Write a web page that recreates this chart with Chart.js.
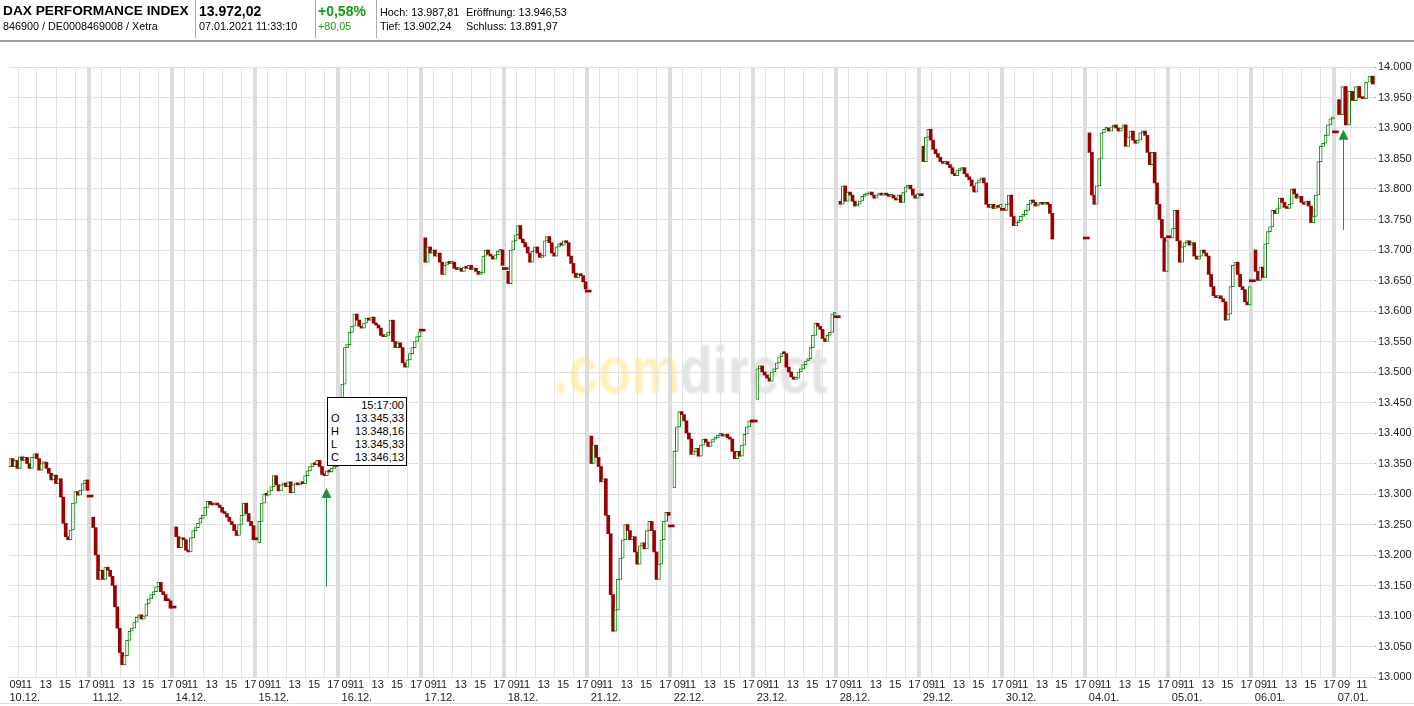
<!DOCTYPE html>
<html>
<head>
<meta charset="utf-8">
<script src="https://cdn.jsdelivr.net/npm/chart.js@4.4.1/dist/chart.umd.min.js"></script>
<style>
  body { margin:0; background:#fff; font-family:"Liberation Sans", Arial, sans-serif; }
  #wrap { position:relative; width:1414px; height:706px; overflow:hidden; }
  #c { position:absolute; left:0; top:0; }
  #hdr { position:absolute; left:0; top:0; width:1414px; height:42px; border-bottom:2px solid #a0a0a0; box-sizing:border-box; }
  .t { position:absolute; white-space:nowrap; color:#000; }
  .big { font-weight:bold; font-size:14px; top:3px; }
  .sm { font-size:10.8px; top:20px; }
  .sep { position:absolute; top:0; width:1px; height:38px; background:#aaa; }
  .grn { color:#149a14; }
  #tip { position:absolute; left:327px; top:397px; width:78px; height:66px; border:1px solid #000; background:#fff;
         font-size:11px; line-height:13px; padding:1px 0 0 0; }
  #tip div { display:flex; justify-content:space-between; padding:0 2px 0 3px; }
  #bot { position:absolute; left:0; top:703px; width:1414px; height:1px; background:#ddd; }
</style>
</head>
<body>
<div id="wrap">
  <canvas id="c" width="1414" height="706"></canvas>
  <div id="hdr">
    <div class="t big" style="left:3px;font-size:13.7px">DAX PERFORMANCE INDEX</div>
    <div class="t sm" style="left:3px">846900 / DE0008469008 / Xetra</div>
    <div class="sep" style="left:195px"></div>
    <div class="t big" style="left:199px">13.972,02</div>
    <div class="t sm" style="left:199px">07.01.2021 11:33:10</div>
    <div class="sep" style="left:315px"></div>
    <div class="t big grn" style="left:318px">+0,58%</div>
    <div class="t sm grn" style="left:318px">+80,05</div>
    <div class="sep" style="left:376px"></div>
    <div class="t sm" style="left:380px;top:6px">Hoch: 13.987,81</div>
    <div class="t sm" style="left:466px;top:6px">Eröffnung: 13.946,53</div>
    <div class="t sm" style="left:380px">Tief: 13.902,24</div>
    <div class="t sm" style="left:466px">Schluss: 13.891,97</div>
  </div>
  <div id="tip">
    <div><span></span><span>15:17:00</span></div>
    <div><span>O</span><span>13.345,33</span></div>
    <div><span>H</span><span>13.348,16</span></div>
    <div><span>L</span><span>13.345,33</span></div>
    <div><span>C</span><span>13.346,13</span></div>
  </div>
  <div id="bot"></div>
</div>
<script>
// trading days shown on the x axis
const days = ['10.12.','11.12.','14.12.','15.12.','16.12.','17.12.','18.12.','21.12.','22.12.',
              '23.12.','28.12.','29.12.','30.12.','04.01.','05.01.','06.01.','07.01.'];
const hourTicks = [11, 13, 15, 17];
const yTicks = [13000, 13050, 13100, 13150, 13200, 13250, 13300, 13350, 13400, 13450, 13500,
                13550, 13600, 13650, 13700, 13750, 13800, 13850, 13900, 13950, 14000];

// per day: opening value, closes every 15 minutes 09:15..17:15, then the closing value
const d1012 = [13345,13358,13345,13355,13342,13361,13355,13360,13350,13342,13360,13366,13358,13339,13350,13352,13342,13334,13323,13331,13317,13325,13295,13252,13230,13225,13241,13285,13304,13298,13306,13317,13323,13306,13295];
const d1112 = [13262,13245,13200,13160,13175,13160,13180,13175,13165,13150,13115,13080,13040,13020,13035,13060,13075,13080,13090,13098,13102,13095,13100,13120,13128,13135,13140,13148,13155,13140,13135,13125,13125,13113,13113];
const d1412 = [13246,13230,13212,13228,13225,13208,13205,13228,13240,13245,13252,13260,13265,13278,13288,13283,13282,13285,13282,13278,13270,13268,13262,13255,13250,13240,13232,13250,13265,13285,13268,13255,13248,13225,13225];
const d1512 = [13220,13255,13285,13300,13298,13305,13312,13330,13315,13305,13315,13318,13312,13320,13302,13315,13318,13315,13318,13317,13330,13338,13345,13350,13348,13355,13345,13332,13330,13338,13336,13342,13345,13350,13348];
const d1612 = [13350,13480,13540,13545,13565,13575,13595,13585,13575,13572,13580,13588,13585,13590,13580,13577,13572,13560,13558,13560,13565,13585,13550,13540,13548,13540,13515,13508,13520,13530,13540,13550,13558,13566,13567];
const d1712 = [13720,13680,13705,13695,13700,13690,13695,13680,13660,13675,13680,13678,13680,13670,13668,13670,13665,13672,13670,13675,13668,13670,13665,13660,13662,13690,13700,13693,13690,13685,13692,13698,13700,13675,13668];
const d1812 = [13665,13645,13700,13715,13725,13740,13718,13712,13705,13695,13680,13698,13705,13695,13688,13690,13715,13722,13712,13695,13690,13705,13710,13708,13715,13712,13690,13678,13662,13655,13660,13658,13648,13636,13631];
const d2112 = [13395,13350,13380,13360,13345,13320,13325,13265,13235,13135,13075,13110,13160,13195,13225,13250,13240,13225,13230,13205,13185,13215,13220,13210,13240,13255,13240,13205,13160,13185,13225,13255,13270,13265,13246];
const d2212 = [13310,13370,13410,13435,13430,13420,13400,13390,13365,13370,13375,13362,13380,13390,13385,13378,13385,13390,13392,13396,13398,13395,13398,13392,13390,13370,13358,13370,13362,13380,13398,13410,13420,13418,13418];
const d2312 = [13455,13505,13510,13500,13495,13490,13485,13500,13505,13515,13525,13530,13530,13508,13500,13492,13488,13490,13500,13505,13512,13518,13522,13540,13560,13580,13575,13570,13555,13550,13560,13565,13595,13598,13589];
const d2812 = [13780,13775,13805,13780,13795,13790,13780,13772,13775,13780,13788,13790,13792,13795,13790,13785,13790,13792,13790,13793,13790,13788,13790,13785,13782,13790,13778,13795,13803,13806,13800,13790,13785,13792,13789];
const d2912 = [13870,13845,13885,13898,13880,13865,13858,13852,13845,13842,13845,13840,13835,13825,13822,13830,13832,13835,13825,13820,13815,13805,13795,13810,13815,13818,13810,13775,13770,13775,13768,13772,13770,13775,13765];
const d3012 = [13765,13775,13790,13755,13740,13745,13748,13755,13758,13765,13775,13782,13778,13772,13775,13778,13775,13778,13775,13760,13718,null,null,null,null,null,null,null,null,null,null,null,null,null,13718];
const d0401 = [13892,13860,13790,13775,13805,13850,13892,13898,13900,13895,13902,13905,13900,13895,13900,13905,13870,13885,13895,13880,13875,13880,13892,13895,13888,13860,13840,13860,13810,13775,13750,13720,13665,13715,13720];
const d0501 = [13720,13735,13765,13715,13680,13705,13712,13715,13708,13712,13690,13685,13690,13700,13695,13690,13660,13640,13625,13622,13625,13620,13615,13585,13595,13640,13675,13680,13660,13640,13635,13615,13610,13640,13648];
const d0601 = [13700,13665,13650,13672,13655,13710,13730,13738,13765,13760,13768,13785,13778,13770,13768,13775,13800,13792,13785,13788,13778,13775,13780,13772,13745,13755,13790,13845,13870,13875,13888,13905,13915,13918,13892];
// 07.01. is still trading: opening value and closes up to 11:33
const d0701 = [13946.53,13922,13968,13905,13960,13945,13968,13950,13948,13975,13985,13972.02];
const dayValues = [d1012,d1112,d1412,d1512,d1612,d1712,d1812,d2112,d2212,d2312,d2812,d2912,d3012,d0401,d0501,d0601,d0701];

const L = 8.6;          // width of one trading day in x units
const XMAX = 141.5;
const dayStart = d => d * L;
function xPos(d, h) {    // hour h of day d -> x value
  const f = d === 16 ? 1.4 : 1;
  return d * L + (h - 9.1) * f;
}

// candles (open = previous close) and the flat closing marks
const candles = [], closes = [];
dayValues.forEach((arr, d) => {
  const full = arr.length === 35;
  const last = full ? arr.length - 1 : arr.length;
  let prev = arr[0];
  for (let k = 1; k < last; k++) {
    if (arr[k] == null) continue;
    candles.push({ x: xPos(d, 9.1 + (k - 0.5) / 4), y: [prev, arr[k]] });
    prev = arr[k];
  }
  if (full) closes.push({ x: xPos(d, 17.5), y: [arr[last], arr[last]] });
});

// cursor markers: [day, hour, from, to]
const markers = [[3, 16.1, 13148, 13310], [16, 9.5, 13733, 13897]];

const UP = '#108a10', DOWN = '#9a0000';
const isUp = ctx => ctx.raw && ctx.raw.y[1] > ctx.raw.y[0];
const fmtK = v => Math.floor(v / 1000) + '.' + String(Math.round(v % 1000)).padStart(3, '0');

const watermark = {
  id: 'watermark',
  beforeDraw(chart) {
    const c = chart.ctx;
    c.save();
    c.filter = 'blur(1.2px)';
    c.font = 'bold 67px "Liberation Sans", Arial';
    c.textBaseline = 'alphabetic';
    c.translate(553, 393);
    c.scale(0.81, 1);
    c.fillStyle = '#fff0b8';
    c.fillText('.com', 0, 0);
    const w = c.measureText('.com').width;
    c.fillStyle = '#e4e4e4';
    c.fillText('direct', w, 0);
    c.restore();
  }
};

const arrows = {
  id: 'arrows',
  afterDatasetsDraw(chart) {
    const c = chart.ctx, xs = chart.scales.x, ys = chart.scales.y;
    c.save();
    c.strokeStyle = '#1a9440';
    c.fillStyle = '#1a9440';
    c.lineWidth = 1;
    markers.forEach(([d, h, a, b]) => {
      const px = Math.round(xs.getPixelForValue(xPos(d, h))) + 0.5;
      const y0 = ys.getPixelForValue(a), y1 = ys.getPixelForValue(b);
      c.beginPath(); c.moveTo(px, y0); c.lineTo(px, y1 + 8); c.stroke();
      c.beginPath(); c.moveTo(px, y1); c.lineTo(px - 5, y1 + 10); c.lineTo(px + 5, y1 + 10); c.closePath(); c.fill();
    });
    c.restore();
  }
};

const gridTicks = [];
days.forEach((d, i) => {
  gridTicks.push({ value: dayStart(i), sep: i > 0 });
  (i === 16 ? [11] : hourTicks).forEach(h => gridTicks.push({ value: xPos(i, h), sep: false }));
});
const hourLabelTicks = [];
days.forEach((d, i) => (i === 16 ? [11] : hourTicks).forEach(h => hourLabelTicks.push({ value: xPos(i, h), label: String(h) })));
const dayLabelTicks = days.map((d, i) => ({ value: dayStart(i), label: ['09', d] }));

const tickFont = { family: '"Liberation Sans", Arial', size: 11 };

new Chart(document.getElementById('c'), {
  type: 'bar',
  data: {
    datasets: [{
      data: candles,
      xAxisID: 'x',
      yAxisID: 'y',
      barThickness: 3,
      minBarLength: 2,
      borderSkipped: false,
      borderWidth: ctx => (isUp(ctx) ? 1 : 0),
      borderColor: ctx => (isUp(ctx) ? UP : DOWN),
      backgroundColor: ctx => (isUp(ctx) ? '#ffffff' : DOWN)
    }, {
      data: closes,
      xAxisID: 'x',
      yAxisID: 'y',
      barThickness: 6,
      minBarLength: 2,
      borderWidth: 0,
      backgroundColor: DOWN
    }]
  },
  options: {
    responsive: false,
    animation: false,
    events: [],
    datasets: { bar: { grouped: false } },
    layout: { padding: { left: 9, top: 67, right: 0, bottom: 0 } },
    plugins: { legend: { display: false }, tooltip: { enabled: false } },
    scales: {
      x: {
        type: 'linear', min: 0, max: XMAX, offset: false, weight: 0,
        afterBuildTicks: s => { s.ticks = gridTicks.map(t => ({ ...t })); },
        afterFit: s => { s.height = 0; },
        ticks: { display: false },
        border: { display: false },
        grid: {
          drawTicks: false,
          color: ctx => (ctx.tick && ctx.tick.sep ? '#dcdcdc' : '#e2e2e2'),
          lineWidth: ctx => (ctx.tick && ctx.tick.sep ? 4 : 1)
        }
      },
      xh: {
        // hour labels share the first label row with the "09" of the day axis
        type: 'linear', position: 'bottom', min: 0, max: XMAX, offset: false, weight: 1,
        afterBuildTicks: s => { s.ticks = hourLabelTicks.map(t => ({ value: t.value })); },
        afterFit: s => { s.height = 0; },
        border: { display: false },
        grid: { display: false, drawTicks: false },
        ticks: {
          autoSkip: false, maxRotation: 0, minRotation: 0, mirror: true, padding: -14.2, labelOffset: -1,
          color: '#222', font: tickFont,
          callback: (v, i) => hourLabelTicks[i].label
        }
      },
      xd: {
        type: 'linear', position: 'bottom', min: 0, max: XMAX, offset: false, weight: 2,
        afterBuildTicks: s => { s.ticks = dayLabelTicks.map(t => ({ value: t.value })); },
        afterFit: s => { s.height = 29; },
        border: { display: false },
        grid: { display: false, drawTicks: false },
        ticks: {
          autoSkip: false, maxRotation: 0, minRotation: 0, padding: 1, align: 'start', labelOffset: 0.5,
          color: '#222', font: tickFont,
          callback: (v, i) => dayLabelTicks[i].label
        }
      },
      y: {
        type: 'linear', position: 'right', min: 13000, max: 14000,
        afterBuildTicks: s => { s.ticks = yTicks.map(v => ({ value: v })); },
        afterFit: s => { s.width = 39; },
        border: { display: false },
        grid: { color: '#e0e0e0', lineWidth: 1, tickLength: 1, tickColor: '#999' },
        ticks: { padding: 2, color: '#222', font: tickFont, callback: v => fmtK(v) }
      }
    }
  },
  plugins: [watermark, arrows]
});
</script>
</body>
</html>
